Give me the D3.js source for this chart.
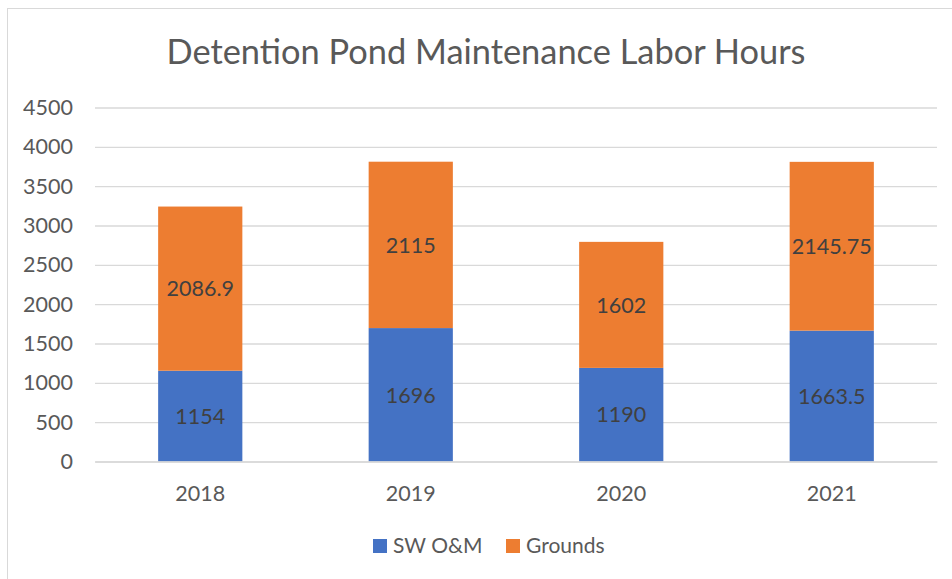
<!DOCTYPE html>
<html>
<head>
<meta charset="utf-8">
<script src="https://cdnjs.cloudflare.com/ajax/libs/d3/7.8.5/d3.min.js"></script>
<style>
    html, body { margin: 0; padding: 0; background: #fff; }
    svg { display: block; font-family: Lato, "Open Sans", sans-serif; }
</style>
</head>
<body>
<svg id="chart" width="952" height="579"></svg>
<script>
    "use strict";

    var years = ["2018", "2019", "2020", "2021"];
    var swOM = [1154, 1696, 1190, 1663.5];
    var grounds = [2086.9, 2115, 1602, 2145.75];
    var seriesNames = ["SW O&M", "Grounds"];
    var seriesColors = ["#4472C4", "#ED7D31"];
    var yTicks = [0, 500, 1000, 1500, 2000, 2500, 3000, 3500, 4000, 4500];

    var svg = d3.select("#chart");
    var margin = { left: 95, right: 15, top: 107.5, bottom: 117.5 };
    var width = 952, height = 579;
    var fs = 21.5;

    // outer chart border
    svg.append("rect")
        .attr("x", 7.5)
        .attr("y", 8.5)
        .attr("width", 952)
        .attr("height", 579)
        .attr("fill", "none")
        .attr("stroke", "#d9d9d9")
        .attr("stroke-width", 1);

    svg.append("text")
        .attr("x", 486)
        .attr("y", 64)
        .attr("text-anchor", "middle")
        .attr("font-size", 34.4)
        .attr("fill", "#595959")
        .text("Detention Pond Maintenance Labor Hours");

    var x = d3.scaleBand()
        .domain(years)
        .range([margin.left, width - margin.right])
        .paddingInner(0.6)
        .paddingOuter(0.3);

    var y = d3.scaleLinear()
        .domain([0, 4500])
        .range([height - margin.bottom, margin.top]);

    var yAxis = svg.append("g")
        .attr("transform", "translate(" + margin.left + ",0)")
        .call(d3.axisLeft(y)
            .tickValues(yTicks)
            .tickFormat(d3.format("d"))
            .tickSize(-(width - margin.left - margin.right))
            .tickPadding(22));
    yAxis.select(".domain").remove();
    yAxis.selectAll("line").attr("stroke", "#d9d9d9").attr("stroke-width", 1.3);
    yAxis.selectAll("text").attr("font-size", fs).attr("fill", "#595959").attr("font-family", "Lato");

    var stackData = years.map(function (yr, i) {
        return { year: yr, "SW O&M": swOM[i], "Grounds": grounds[i] };
    });
    var stacked = d3.stack().keys(seriesNames)(stackData);

    var layers = svg.append("g").selectAll("g")
        .data(stacked)
        .enter()
        .append("g")
        .attr("fill", function (d, i) { return seriesColors[i]; });

    layers.selectAll("rect")
        .data(function (d) { return d; })
        .enter()
        .append("rect")
        .attr("x", function (d) { return x(d.data.year); })
        .attr("y", function (d) { return y(d[1]); })
        .attr("width", x.bandwidth())
        .attr("height", function (d) { return y(d[0]) - y(d[1]); });

    layers.selectAll("text")
        .data(function (d) { return d; })
        .enter()
        .append("text")
        .attr("x", function (d) { return x(d.data.year) + x.bandwidth() / 2; })
        .attr("y", function (d) { return (y(d[0]) + y(d[1])) / 2; })
        .attr("dy", "0.36em")
        .attr("text-anchor", "middle")
        .attr("font-size", fs)
        .attr("fill", "#404040")
        .text(function (d) { return d.data[this.parentNode.__data__.key]; });

    // baseline axis
    var xAxis = svg.append("g")
        .attr("transform", "translate(0," + y(0) + ")")
        .call(d3.axisBottom(x).tickSize(0).tickPadding(24));
    xAxis.select(".domain").attr("stroke", "#d9d9d9").attr("stroke-width", 1.3);
    xAxis.selectAll("text").attr("font-size", fs).attr("fill", "#595959").attr("font-family", "Lato");

    // legend
    var legendX = [373, 506];
    var legend = svg.append("g").selectAll("g")
        .data(seriesNames)
        .enter()
        .append("g")
        .attr("transform", function (d, i) { return "translate(" + legendX[i] + ",539)"; });
    legend.append("rect")
        .attr("width", 14)
        .attr("height", 14)
        .attr("fill", function (d, i) { return seriesColors[i]; });
    legend.append("text")
        .attr("x", 20)
        .attr("y", 14)
        .attr("font-size", 21)
        .attr("fill", "#595959")
        .text(function (d) { return d; });
</script>
</body>
</html>
